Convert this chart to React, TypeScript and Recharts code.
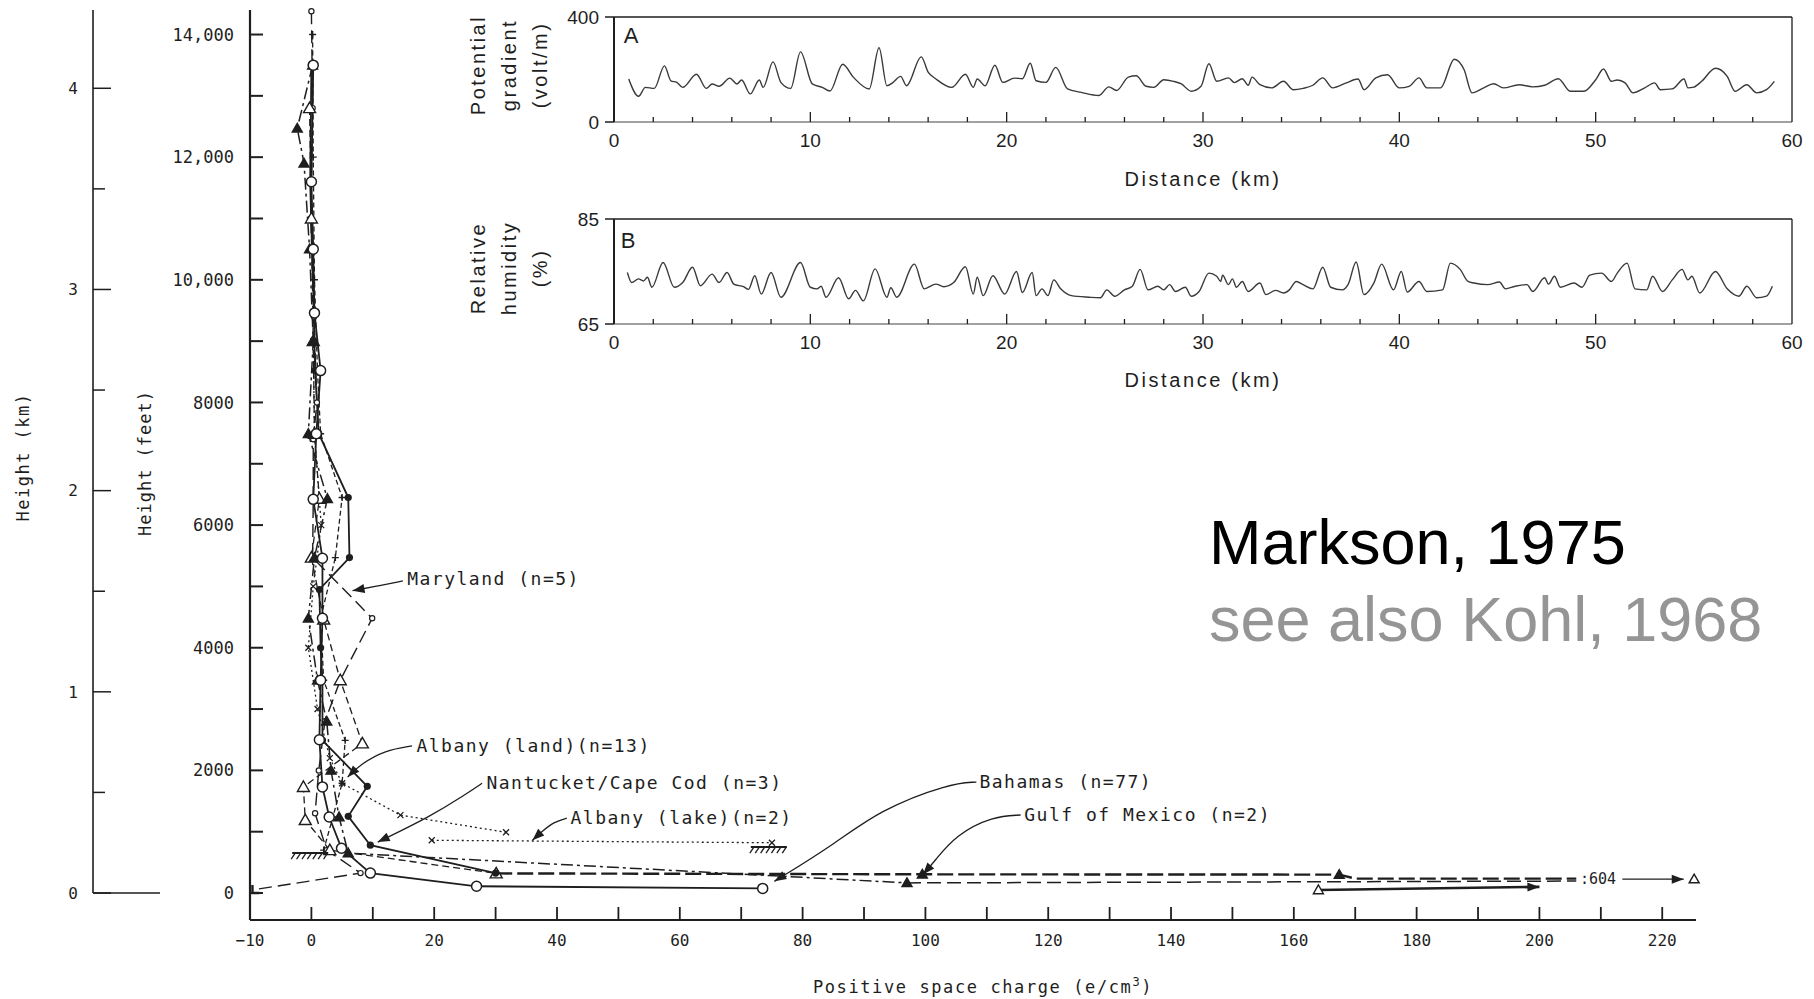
import React from "react";
import {
  ComposedChart,
  LineChart,
  Line,
  Scatter,
  XAxis,
  YAxis,
  ReferenceDot,
} from "recharts";

const INK = "#1e1e1e";
const MONO = "'DejaVu Sans Mono', monospace";
const SANS = "'Liberation Sans', Arial, sans-serif";
const FEET_PER_KM = 3280.84;

// inset A: potential gradient (km, volt/m)
const POTENTIAL = [
  [0.75, 164], [1.25, 98], [1.6, 132], [2.05, 128], [2.57, 214], [2.9, 157], [3.2, 151], [3.5, 132],
  [4.2, 182], [4.7, 128], [5.0, 145], [5.35, 136], [5.9, 167], [6.26, 145], [6.5, 160], [6.94, 107],
  [7.4, 160], [7.6, 132], [8.1, 229], [8.5, 151], [9.0, 128], [9.5, 267], [10.1, 145], [10.6, 132],
  [11.0, 118], [11.65, 220], [12.2, 170], [13.0, 126], [13.5, 283], [13.9, 138], [14.2, 150], [14.6, 174],
  [14.9, 138], [15.65, 248], [16.0, 190], [16.4, 164], [17.2, 132], [17.9, 182], [18.3, 132], [18.5, 164],
  [18.9, 138], [19.4, 216], [19.8, 151], [20.4, 167], [20.8, 165], [21.2, 224], [21.5, 157], [22.0, 151],
  [22.5, 208], [23.1, 126], [23.8, 113], [24.7, 101], [25.2, 134], [25.6, 120], [26.2, 171], [26.6, 176],
  [27.1, 136], [27.5, 132], [28.0, 161], [28.5, 155], [28.9, 145], [29.4, 117], [29.9, 136], [30.3, 222],
  [30.7, 155], [31.3, 168], [31.6, 150], [32.0, 165], [32.3, 140], [32.5, 171], [32.9, 142], [33.5, 130],
  [34.1, 155], [34.6, 123], [35.1, 128], [35.6, 140], [36.1, 168], [36.6, 130], [37.3, 149], [37.9, 164],
  [38.2, 123], [38.8, 168], [39.4, 180], [40.0, 130], [40.5, 136], [41.0, 168], [41.4, 130], [42.1, 130],
  [42.8, 239], [43.3, 199], [43.7, 111], [44.3, 130], [44.8, 146], [45.3, 130], [46.1, 142], [46.8, 134],
  [47.4, 140], [48.1, 165], [48.7, 117], [49.4, 117], [50.0, 161], [50.4, 202], [50.8, 155], [51.1, 160],
  [51.5, 149], [51.9, 111], [52.5, 130], [53.0, 149], [53.3, 123], [53.9, 126], [54.5, 164], [54.7, 130],
  [55.0, 133], [55.4, 155], [56.1, 205], [56.7, 174], [57.1, 117], [57.7, 142], [58.2, 111], [58.7, 123],
  [59.1, 155],
];

// inset B: relative humidity (km, %)
const HUMIDITY = [
  [0.68, 74.8], [0.9, 72.9], [1.25, 73.6], [1.5, 73.2], [1.7, 73.9], [1.93, 72.0], [2.5, 76.7], [3.07, 72.0],
  [3.5, 72.9], [4.0, 75.8], [4.4, 72.3], [5.0, 74.5], [5.35, 72.9], [5.76, 74.8], [6.1, 72.6], [6.6, 72.1],
  [6.85, 71.6], [7.17, 74.2], [7.5, 70.7], [8.0, 74.8], [8.5, 70.1], [9.5, 76.7], [10.0, 72.0], [10.35, 71.7],
  [10.55, 72.2], [10.8, 70.1], [11.44, 73.8], [11.95, 69.8], [12.3, 71.4], [12.7, 69.4], [13.3, 75.5], [13.9, 70.1],
  [14.1, 71.9], [14.4, 70.1], [15.3, 76.4], [15.8, 71.7], [16.4, 72.6], [16.8, 72.1], [17.3, 72.9], [17.9, 75.9],
  [18.3, 70.7], [18.5, 73.9], [18.8, 70.4], [19.3, 74.2], [19.9, 70.7], [20.5, 75.0], [20.8, 71.0], [21.3, 74.8],
  [21.5, 70.4], [21.8, 71.7], [22.1, 70.4], [22.4, 73.4], [22.75, 71.7], [23.3, 70.4], [24.2, 70.1], [24.77, 70.0],
  [25.1, 71.5], [25.5, 70.3], [26.0, 71.5], [26.4, 72.2], [26.8, 75.4], [27.2, 71.5], [27.7, 72.2], [28.0, 71.5],
  [28.3, 72.5], [28.6, 71.2], [29.1, 72.0], [29.4, 70.3], [29.8, 71.2], [30.3, 74.7], [30.7, 74.1], [30.9, 73.1],
  [31.0, 74.3], [31.3, 72.5], [31.5, 73.6], [31.7, 72.0], [32.0, 73.1], [32.3, 71.2], [32.9, 72.8], [33.2, 70.6],
  [33.7, 71.4], [34.1, 70.9], [34.4, 71.5], [34.75, 73.1], [35.1, 72.5], [35.6, 71.7], [36.1, 75.8], [36.5, 72.0],
  [37.1, 71.5], [37.4, 72.6], [37.8, 76.8], [38.2, 70.6], [38.7, 72.8], [39.1, 76.4], [39.7, 71.5], [40.1, 75.0],
  [40.4, 71.1], [41.0, 73.1], [41.4, 71.2], [42.2, 71.5], [42.6, 76.6], [43.1, 75.4], [43.5, 73.1], [43.8, 72.8],
  [44.5, 72.5], [45.1, 73.0], [45.4, 71.7], [45.9, 72.2], [46.5, 72.5], [46.8, 71.2], [47.4, 73.8], [47.6, 72.6],
  [47.9, 74.1], [48.2, 72.0], [48.9, 72.8], [49.3, 72.0], [49.7, 74.3], [50.3, 74.7], [50.8, 73.1], [51.1, 74.7],
  [51.6, 76.6], [52.0, 71.7], [52.6, 71.5], [52.9, 74.1], [53.4, 71.2], [53.9, 73.4], [54.4, 75.4], [54.7, 73.4],
  [54.9, 74.1], [55.3, 70.9], [56.1, 75.0], [56.7, 71.7], [57.3, 70.3], [57.7, 72.2], [58.2, 70.0], [58.7, 70.3],
  [59.0, 72.2],
];

const DIST_TICKS = [0, 2, 4, 6, 8, 10, 12, 14, 16, 18, 20, 22, 24, 26, 28, 30, 32, 34, 36, 38, 40, 42, 44, 46, 48, 50, 52, 54, 56, 58, 60];

// main profiles: [positive space charge (e/cm3), height (ft)]
const BAHAMAS = [
  [0.3, 13500], [0.0, 11600], [0.3, 10500], [0.5, 9460], [1.5, 8520], [0.8, 7490], [0.3, 6420],
  [1.8, 5460], [1.8, 4480], [1.5, 3470], [1.3, 2500], [1.8, 1730], [2.9, 1240], [4.9, 730], [9.6, 325],
  [26.9, 110], [73.5, 75],
];
const NANTUCKET = [
  [0.0, 13500], [-0.2, 11600], [0.1, 10500], [0.4, 9460], [0.6, 8520], [1.2, 7490], [6.0, 6450], [6.2, 5470],
  [1.3, 4950], [1.5, 4000], [1.8, 3470], [1.8, 2490], [9.1, 1740], [6.0, 1250], [9.6, 780], [30.0, 325],
];
const MARYLAND = [
  [0.0, 14380], [0.2, 12800], [-0.1, 11000], [0.4, 9400], [0.9, 8000], [0.3, 7400], [0.3, 6420], [0.2, 5470],
  [9.9, 4480], [4.7, 3470], [2.2, 2800], [1.2, 2000], [0.6, 1300], [2.5, 700], [8.0, 325], [-9.6, 50],
];
const ALBANY_LAND = [
  [-0.3, 12800], [0.0, 11000], [0.3, 9000], [0.5, 7490], [1.3, 6430], [0.0, 5470], [2.0, 4460], [4.7, 3470],
  [8.3, 2440], [-1.3, 1730], [-1.0, 1190], [3.0, 700], [30.1, 320],
];
const ALBANY_LAND_TAIL = [[30.1, 320], [99.5, 305], [167.4, 300], [170, 235], [206, 235]];
const GULF = [
  [0.2, 13500], [-2.3, 12470], [-1.2, 11900], [-0.3, 10500], [0.3, 9000], [-0.5, 7490], [2.6, 6430],
  [0.5, 5470], [-0.5, 4480], [1.0, 3470], [2.5, 2800], [3.2, 2000], [4.5, 1240], [6.0, 650], [97.0, 165],
];
const GULF_TAIL = [[97.0, 165], [206, 195]];
const GULF_RUN = [[164, 50], [200, 100]];
const PLUS = [
  [0.2, 14000], [0.3, 12000], [0.5, 10000], [1.0, 8500], [1.5, 7490], [5.0, 6450], [3.9, 5470], [1.5, 4480],
  [2.0, 3470], [5.5, 2490], [5.0, 1790], [3.5, 1240], [2.0, 700],
];
const LAKE = [
  [0.3, 9000], [0.5, 7490], [1.6, 6000], [0.3, 5000], [-0.5, 4000], [1.0, 3000], [3.0, 2200], [5.0, 1790],
  [14.5, 1270], [31.7, 990],
];
const LAKE_LEVEL = [[19.6, 860], [75, 820]];
const SURFACES = [[-0.2, 652], [74.5, 750]];
const OFFSCALE = [[213.5, 225], [223.5, 225]];
const OFFSCALE_POINT = [[225.2, 228]];

// leaders: label end -> arrow tip
const LEADER_MARYLAND = [[14.9, 5090], [10.5, 5000], [6.7, 4930]];
const LEADER_ALBANY_LAND = [[16.4, 2400], [12, 2330], [8, 2100], [5.9, 1890]];
const LEADER_NANTUCKET = [[27.8, 1790], [25, 1600], [19.4, 1250], [10.8, 830]];
const LEADER_LAKE = [[41.6, 1220], [39.5, 1160], [37.5, 1000], [36, 860]];
const LEADER_BAHAMAS = [[108.3, 1810], [104, 1790], [92.5, 1354], [85, 783], [75.4, 190]];
const LEADER_GULF = [[115.5, 1272], [111, 1250], [105, 950], [101.5, 520], [99.6, 300]];

const LABELS: [number, number, string][] = [
  [15.6, 5121, "Maryland (n=5)"],
  [17.1, 2397, "Albany (land)(n=13)"],
  [28.5, 1794, "Nantucket/Cape Cod (n=3)"],
  [42.2, 1223, "Albany (lake)(n=2)"],
  [108.8, 1810, "Bahamas (n=77)"],
  [116.1, 1272, "Gulf of Mexico (n=2)"],
];
const OFFSCALE_LABEL: [number, number, string] = [206.6, 230, ":604"];

const FEET_TICKS = [0, 1000, 2000, 3000, 4000, 5000, 6000, 7000, 8000, 9000, 10000, 11000, 12000, 13000, 14000];
const CHARGE_TICKS = [-10, 0, 10, 20, 30, 40, 50, 60, 70, 80, 90, 100, 110, 120, 130, 140, 150, 160, 170, 180, 190, 200, 210, 220];
const KM_TICKS = [0, 0.5, 1, 1.5, 2, 2.5, 3, 3.5, 4];

const pts = (arr: number[][]) => arr.map(([x, y]) => ({ x, y }));

// markers
const blank = (p: any) => <g key={`b${p.index}`} />;
const openCircle = (p: any) => (
  <circle key={`oc${p.index}`} cx={p.cx} cy={p.cy} r={5} fill="#fff" stroke={INK} strokeWidth={1.5} />
);
const filledDot = (p: any) => <circle key={`fd${p.index}`} cx={p.cx} cy={p.cy} r={3.6} fill={INK} />;
const smallRing = (p: any) => (
  <circle key={`sr${p.index}`} cx={p.cx} cy={p.cy} r={2.6} fill="#fff" stroke={INK} strokeWidth={1.2} />
);
const triangle = (filled: boolean, s = 6) => (p: any) => (
  <polygon
    key={`t${p.index}`}
    points={`${p.cx},${p.cy - s} ${p.cx - s},${p.cy + s * 0.75} ${p.cx + s},${p.cy + s * 0.75}`}
    fill={filled ? INK : "#fff"}
    stroke={INK}
    strokeWidth={1.4}
  />
);
const plusMark = (p: any) => (
  <path key={`p${p.index}`} d={`M${p.cx - 3.5},${p.cy}H${p.cx + 3.5}M${p.cx},${p.cy - 3.5}V${p.cy + 3.5}`} stroke={INK} strokeWidth={1.4} />
);
const crossMark = (p: any) => (
  <path key={`x${p.index}`} d={`M${p.cx - 3},${p.cy - 3}L${p.cx + 3},${p.cy + 3}M${p.cx - 3},${p.cy + 3}L${p.cx + 3},${p.cy - 3}`} stroke={INK} strokeWidth={1.3} />
);

function arrowTip(p: any, prev: { x: number; y: number } | null) {
  if (!prev) return <circle key={`ah${p.index}`} cx={p.cx} cy={p.cy} r={2.5} fill={INK} />;
  const a = Math.atan2(p.cy - prev.y, p.cx - prev.x);
  const L = 12;
  const W = 4.5;
  const bx = p.cx - L * Math.cos(a);
  const by = p.cy - L * Math.sin(a);
  const nx = -Math.sin(a) * W;
  const ny = Math.cos(a) * W;
  return (
    <polygon key={`ah${p.index}`} points={`${p.cx},${p.cy} ${bx + nx},${by + ny} ${bx - nx},${by - ny}`} fill={INK} />
  );
}
const arrowEnd = (p: any) => {
  const list = p.points;
  if (!list || p.index !== list.length - 1) return <g key={`ae${p.index}`} />;
  return arrowTip(p, list.length > 1 ? list[list.length - 2] : null);
};
const runDots = (p: any) => {
  const list = p.points;
  if (p.index === 0) return triangle(false, 5)(p);
  if (!list) return <g key={`rd${p.index}`} />;
  return arrowTip(p, list[p.index - 1]);
};
const tailDots = (p: any) => (p.index === 1 || p.index === 2 ? triangle(true, 5)(p) : <g key={`td${p.index}`} />);
const wallDots = (p: any) =>
  p.index === (p.points ? p.points.length - 1 : -1) ? (
    <path key={`w${p.index}`} d={`M${p.cx},${p.cy - 5}V${p.cy + 3}H${p.cx + 7}`} stroke={INK} strokeWidth={2.4} fill="none" />
  ) : (
    smallRing(p)
  );

const hatch = (p: any) => {
  const { cx, cy } = p;
  const w = 18;
  return (
    <g>
      <line x1={cx - w} x2={cx + w} y1={cy} y2={cy} stroke={INK} strokeWidth={2} />
      {[0, 1, 2, 3, 4, 5, 6].map((i) => (
        <line key={i} x1={cx - w + 3 + i * 5.4} y1={cy} x2={cx - w - 1 + i * 5.4} y2={cy + 6} stroke={INK} strokeWidth={1.3} />
      ))}
    </g>
  );
};
const openTri = (p: any) => triangle(false, 5)(p);

// ticks
function FeetTick(props: any) {
  const { x, y, payload } = props;
  const v = payload.value as number;
  const label = v % 2000 === 0 ? (v >= 10000 ? v.toLocaleString("en-US") : String(v)) : null;
  return (
    <g>
      <line x1={x} x2={x + 13} y1={y} y2={y} stroke={INK} strokeWidth={2} />
      {label !== null && (
        <text x={x - 16} y={y} dy="0.36em" textAnchor="end" fontFamily={MONO} fontSize={17} fill={INK}>
          {label}
        </text>
      )}
    </g>
  );
}
function ChargeTick(props: any) {
  const { x, y, payload } = props;
  const v = payload.value as number;
  const show = v === -10 || v % 20 === 0;
  return (
    <g>
      {v > -10 && <line x1={x} x2={x} y1={y} y2={y - 13} stroke={INK} strokeWidth={1.8} />}
      {show && (
        <text x={x} y={y + 26} textAnchor="middle" fontFamily={MONO} fontSize={16} fill={INK}>
          {v < 0 ? `\u2212${-v}` : v}
        </text>
      )}
    </g>
  );
}
function KmTick(props: any) {
  const { x, y, payload } = props;
  const v = payload.value as number;
  const major = Number.isInteger(v);
  return (
    <g>
      <line x1={x} x2={x + (major ? 18 : 12)} y1={y} y2={y} stroke={INK} strokeWidth={1.5} />
      {major && (
        <text x={x - 15} y={y} dy="0.36em" textAnchor="end" fontFamily={MONO} fontSize={16} fill={INK}>
          {v}
        </text>
      )}
    </g>
  );
}
function DistBottomTick(props: any) {
  const { x, y, payload } = props;
  const v = payload.value as number;
  const major = v % 10 === 0;
  return (
    <g>
      {v > 0 && v < 60 && <line x1={x} x2={x} y1={y} y2={y - (major ? 10 : 5)} stroke={INK} strokeWidth={1.3} />}
      {major && (
        <text x={x} y={y + 25} textAnchor="middle" fontFamily={SANS} fontSize={19} fill={INK}>
          {v}
        </text>
      )}
    </g>
  );
}
function DistTopTick(props: any) {
  const { x, y, payload } = props;
  const v = payload.value as number;
  const major = v % 10 === 0;
  if (v <= 0 || v >= 60) return <g />;
  return <line x1={x} x2={x} y1={y} y2={y + (major ? 11 : 7)} stroke={INK} strokeWidth={1.3} />;
}

// axes need a non-zero band to be drawn, so each gets 1px and the margins give that back
function Inset({ data, domain, top, marginTop, marginBottom }: any) {
  return (
    <div style={{ position: "absolute", left: 0, top }}>
      <LineChart width={1814} height={200} margin={{ top: marginTop - 1, right: 21, bottom: marginBottom - 1, left: 613 }}>
        <XAxis
          xAxisId="b"
          dataKey="x"
          type="number"
          domain={[0, 60]}
          ticks={DIST_TICKS}
          interval={0}
          height={1}
          tickSize={0}
          tickMargin={0}
          tickLine={false}
          tick={<DistBottomTick />}
          axisLine={{ stroke: "#444", strokeWidth: 1.2 }}
        />
        <XAxis
          xAxisId="t"
          orientation="top"
          type="number"
          domain={[0, 60]}
          ticks={DIST_TICKS}
          interval={0}
          height={1}
          tickSize={0}
          tickMargin={0}
          tickLine={false}
          tick={<DistTopTick />}
          axisLine={{ stroke: INK, strokeWidth: 1.5 }}
        />
        <YAxis
          yAxisId="l"
          type="number"
          domain={domain}
          ticks={domain}
          interval={0}
          width={1}
          tickSize={9}
          tickMargin={6}
          tickLine={{ stroke: INK, strokeWidth: 1.5 }}
          tick={{ fontFamily: SANS, fontSize: 19, fill: INK }}
          axisLine={{ stroke: INK, strokeWidth: 2 }}
        />
        <YAxis
          yAxisId="r"
          orientation="right"
          type="number"
          domain={domain}
          width={1}
          tick={false}
          tickLine={false}
          axisLine={{ stroke: INK, strokeWidth: 1.3 }}
        />
        <Line
          xAxisId="b"
          yAxisId="l"
          data={pts(data)}
          dataKey="y"
          type="monotone"
          dot={false}
          activeDot={false}
          stroke="#3a3a3a"
          strokeWidth={1.4}
          isAnimationActive={false}
        />
      </LineChart>
    </div>
  );
}

export default function App() {
  const kmMax = 14400 / FEET_PER_KM;
  const line = (data: number[][], dot: any, dash?: string, width = 1.4, type: any = "linear") => (
    <Line
      data={pts(data)}
      dataKey="y"
      type={type}
      stroke={INK}
      strokeWidth={width}
      strokeDasharray={dash}
      dot={dot}
      activeDot={false}
      isAnimationActive={false}
    />
  );
  return (
    <div style={{ position: "absolute", left: 0, top: 0, width: 1814, height: 999, background: "#fff" }}>
      <div style={{ position: "absolute", left: 0, top: 0 }}>
        <ComposedChart width={170} height={999} margin={{ top: 10, right: 10, bottom: 105, left: 92 }}>
          <XAxis dataKey="x" type="number" domain={[0, 1]} height={1} tick={false} tickLine={false} axisLine={{ stroke: INK, strokeWidth: 1.5 }} />
          <YAxis
            type="number"
            domain={[0, kmMax]}
            ticks={KM_TICKS}
            interval={0}
            width={1}
            tickSize={0}
            tickMargin={0}
            tickLine={false}
            tick={<KmTick />}
            axisLine={{ stroke: INK, strokeWidth: 1.6 }}
          />
          {/* invisible carrier so the km scale gets built */}
          <Line
            data={KM_TICKS.map((k) => ({ x: 0, y: k }))}
            dataKey="y"
            stroke="none"
            dot={false}
            activeDot={false}
            isAnimationActive={false}
          />
        </ComposedChart>
      </div>

      <Inset data={POTENTIAL} domain={[0, 400]} top={0} marginTop={17} marginBottom={78} />
      <Inset data={HUMIDITY} domain={[65, 85]} top={200} marginTop={19} marginBottom={76} />

      <div style={{ position: "absolute", left: 0, top: 0 }}>
        <ComposedChart width={1814} height={999} margin={{ top: 10, right: 118, bottom: 78, left: 249 }}>
          <XAxis
            dataKey="x"
            type="number"
            domain={[-10, 225.5]}
            ticks={CHARGE_TICKS}
            interval={0}
            height={1}
            tickSize={0}
            tickMargin={0}
            tickLine={false}
            tick={<ChargeTick />}
            axisLine={{ stroke: INK, strokeWidth: 2 }}
          />
          <YAxis
            type="number"
            domain={[-440, 14400]}
            ticks={FEET_TICKS}
            interval={0}
            width={1}
            tickSize={0}
            tickMargin={0}
            tickLine={false}
            tick={<FeetTick />}
            axisLine={{ stroke: INK, strokeWidth: 2.2 }}
          />
          {line(LAKE, crossMark, "2 3", 1.3)}
          {line(LAKE_LEVEL, crossMark, "2 3", 1.3)}
          {line(PLUS, plusMark, "5 3", 1.3)}
          {line(MARYLAND, wallDots, "13 6", 1.4)}
          {line(ALBANY_LAND, triangle(false), "7 4", 1.3)}
          {line(ALBANY_LAND_TAIL, tailDots, "16 5", 2.4)}
          {line(GULF, triangle(true, 5), "12 4 3 4", 1.5)}
          {line(GULF_TAIL, blank, "14 6", 1.5)}
          {line(GULF_RUN, runDots, undefined, 2.6)}
          {line(OFFSCALE, arrowEnd, undefined, 1.3)}
          {line(NANTUCKET, filledDot, undefined, 1.8)}
          {line(BAHAMAS, openCircle, undefined, 1.8)}
          {line(LEADER_MARYLAND, arrowEnd, undefined, 1.3, "basis")}
          {line(LEADER_ALBANY_LAND, arrowEnd, undefined, 1.3, "basis")}
          {line(LEADER_NANTUCKET, arrowEnd, undefined, 1.3, "basis")}
          {line(LEADER_LAKE, arrowEnd, undefined, 1.3, "basis")}
          {line(LEADER_BAHAMAS, arrowEnd, undefined, 1.3, "basis")}
          {line(LEADER_GULF, arrowEnd, undefined, 1.3, "basis")}
          <Scatter data={pts(SURFACES)} dataKey="y" shape={hatch} isAnimationActive={false} />
          <Scatter data={pts(OFFSCALE_POINT)} dataKey="y" shape={openTri} isAnimationActive={false} />
          {LABELS.map(([x, y, text]) => (
            <ReferenceDot
              key={text}
              x={x}
              y={y}
              r={0}
              fill="none"
              stroke="none"
              label={{ value: text, position: "right", offset: 0, fill: INK, fontSize: 18, fontFamily: MONO, letterSpacing: 1.5 }}
            />
          ))}
          <ReferenceDot
            x={OFFSCALE_LABEL[0]}
            y={OFFSCALE_LABEL[1]}
            r={0}
            fill="none"
            stroke="none"
            label={{ value: OFFSCALE_LABEL[2], position: "right", offset: 0, fill: INK, fontSize: 15, fontFamily: MONO }}
          />
        </ComposedChart>
      </div>

      <svg width={1814} height={999} style={{ position: "absolute", left: 0, top: 0, pointerEvents: "none" }}>
        <text transform="translate(23,457) rotate(-90)" textAnchor="middle" dy="0.35em" fontFamily={MONO} fontSize={17} letterSpacing={1.5} fill={INK}>
          Height (km)
        </text>
        <text transform="translate(145,463) rotate(-90)" textAnchor="middle" dy="0.35em" fontFamily={MONO} fontSize={17} letterSpacing={1} fill={INK}>
          Height (feet)
        </text>
        <text x={983} y={993} textAnchor="middle" fontFamily={MONO} fontSize={17} letterSpacing={1.6} fill={INK}>
          Positive space charge (e/cm<tspan fontSize={12} dy={-7}>3</tspan>
          <tspan dy={7}>)</tspan>
        </text>

        {[["Potential", 478], ["gradient", 509], ["(volt/m)", 540]].map(([t, x]) => (
          <text key={t as string} transform={`translate(${x},65) rotate(-90)`} textAnchor="middle" dy="0.35em" fontFamily={SANS} fontSize={20} letterSpacing={2.5} fill={INK}>
            {t}
          </text>
        ))}
        {[["Relative", 478], ["humidity", 509], ["(%)", 540]].map(([t, x]) => (
          <text key={t as string} transform={`translate(${x},268) rotate(-90)`} textAnchor="middle" dy="0.35em" fontFamily={SANS} fontSize={20} letterSpacing={2.5} fill={INK}>
            {t}
          </text>
        ))}
        <text x={1203} y={186} textAnchor="middle" fontFamily={SANS} fontSize={20} letterSpacing={2.6} fill={INK}>
          Distance (km)
        </text>
        <text x={1203} y={387} textAnchor="middle" fontFamily={SANS} fontSize={20} letterSpacing={2.6} fill={INK}>
          Distance (km)
        </text>
        <text x={631} y={43} textAnchor="middle" fontFamily={SANS} fontSize={22} fill={INK}>
          A
        </text>
        <text x={628} y={248} textAnchor="middle" fontFamily={SANS} fontSize={22} fill={INK}>
          B
        </text>

        <text x={1209} y={564} fontFamily={SANS} fontSize={63} fill="#000">
          Markson, 1975
        </text>
        <text x={1209} y={641} fontFamily={SANS} fontSize={63} fill="#959595">
          see also Kohl, 1968
        </text>
      </svg>
    </div>
  );
}
